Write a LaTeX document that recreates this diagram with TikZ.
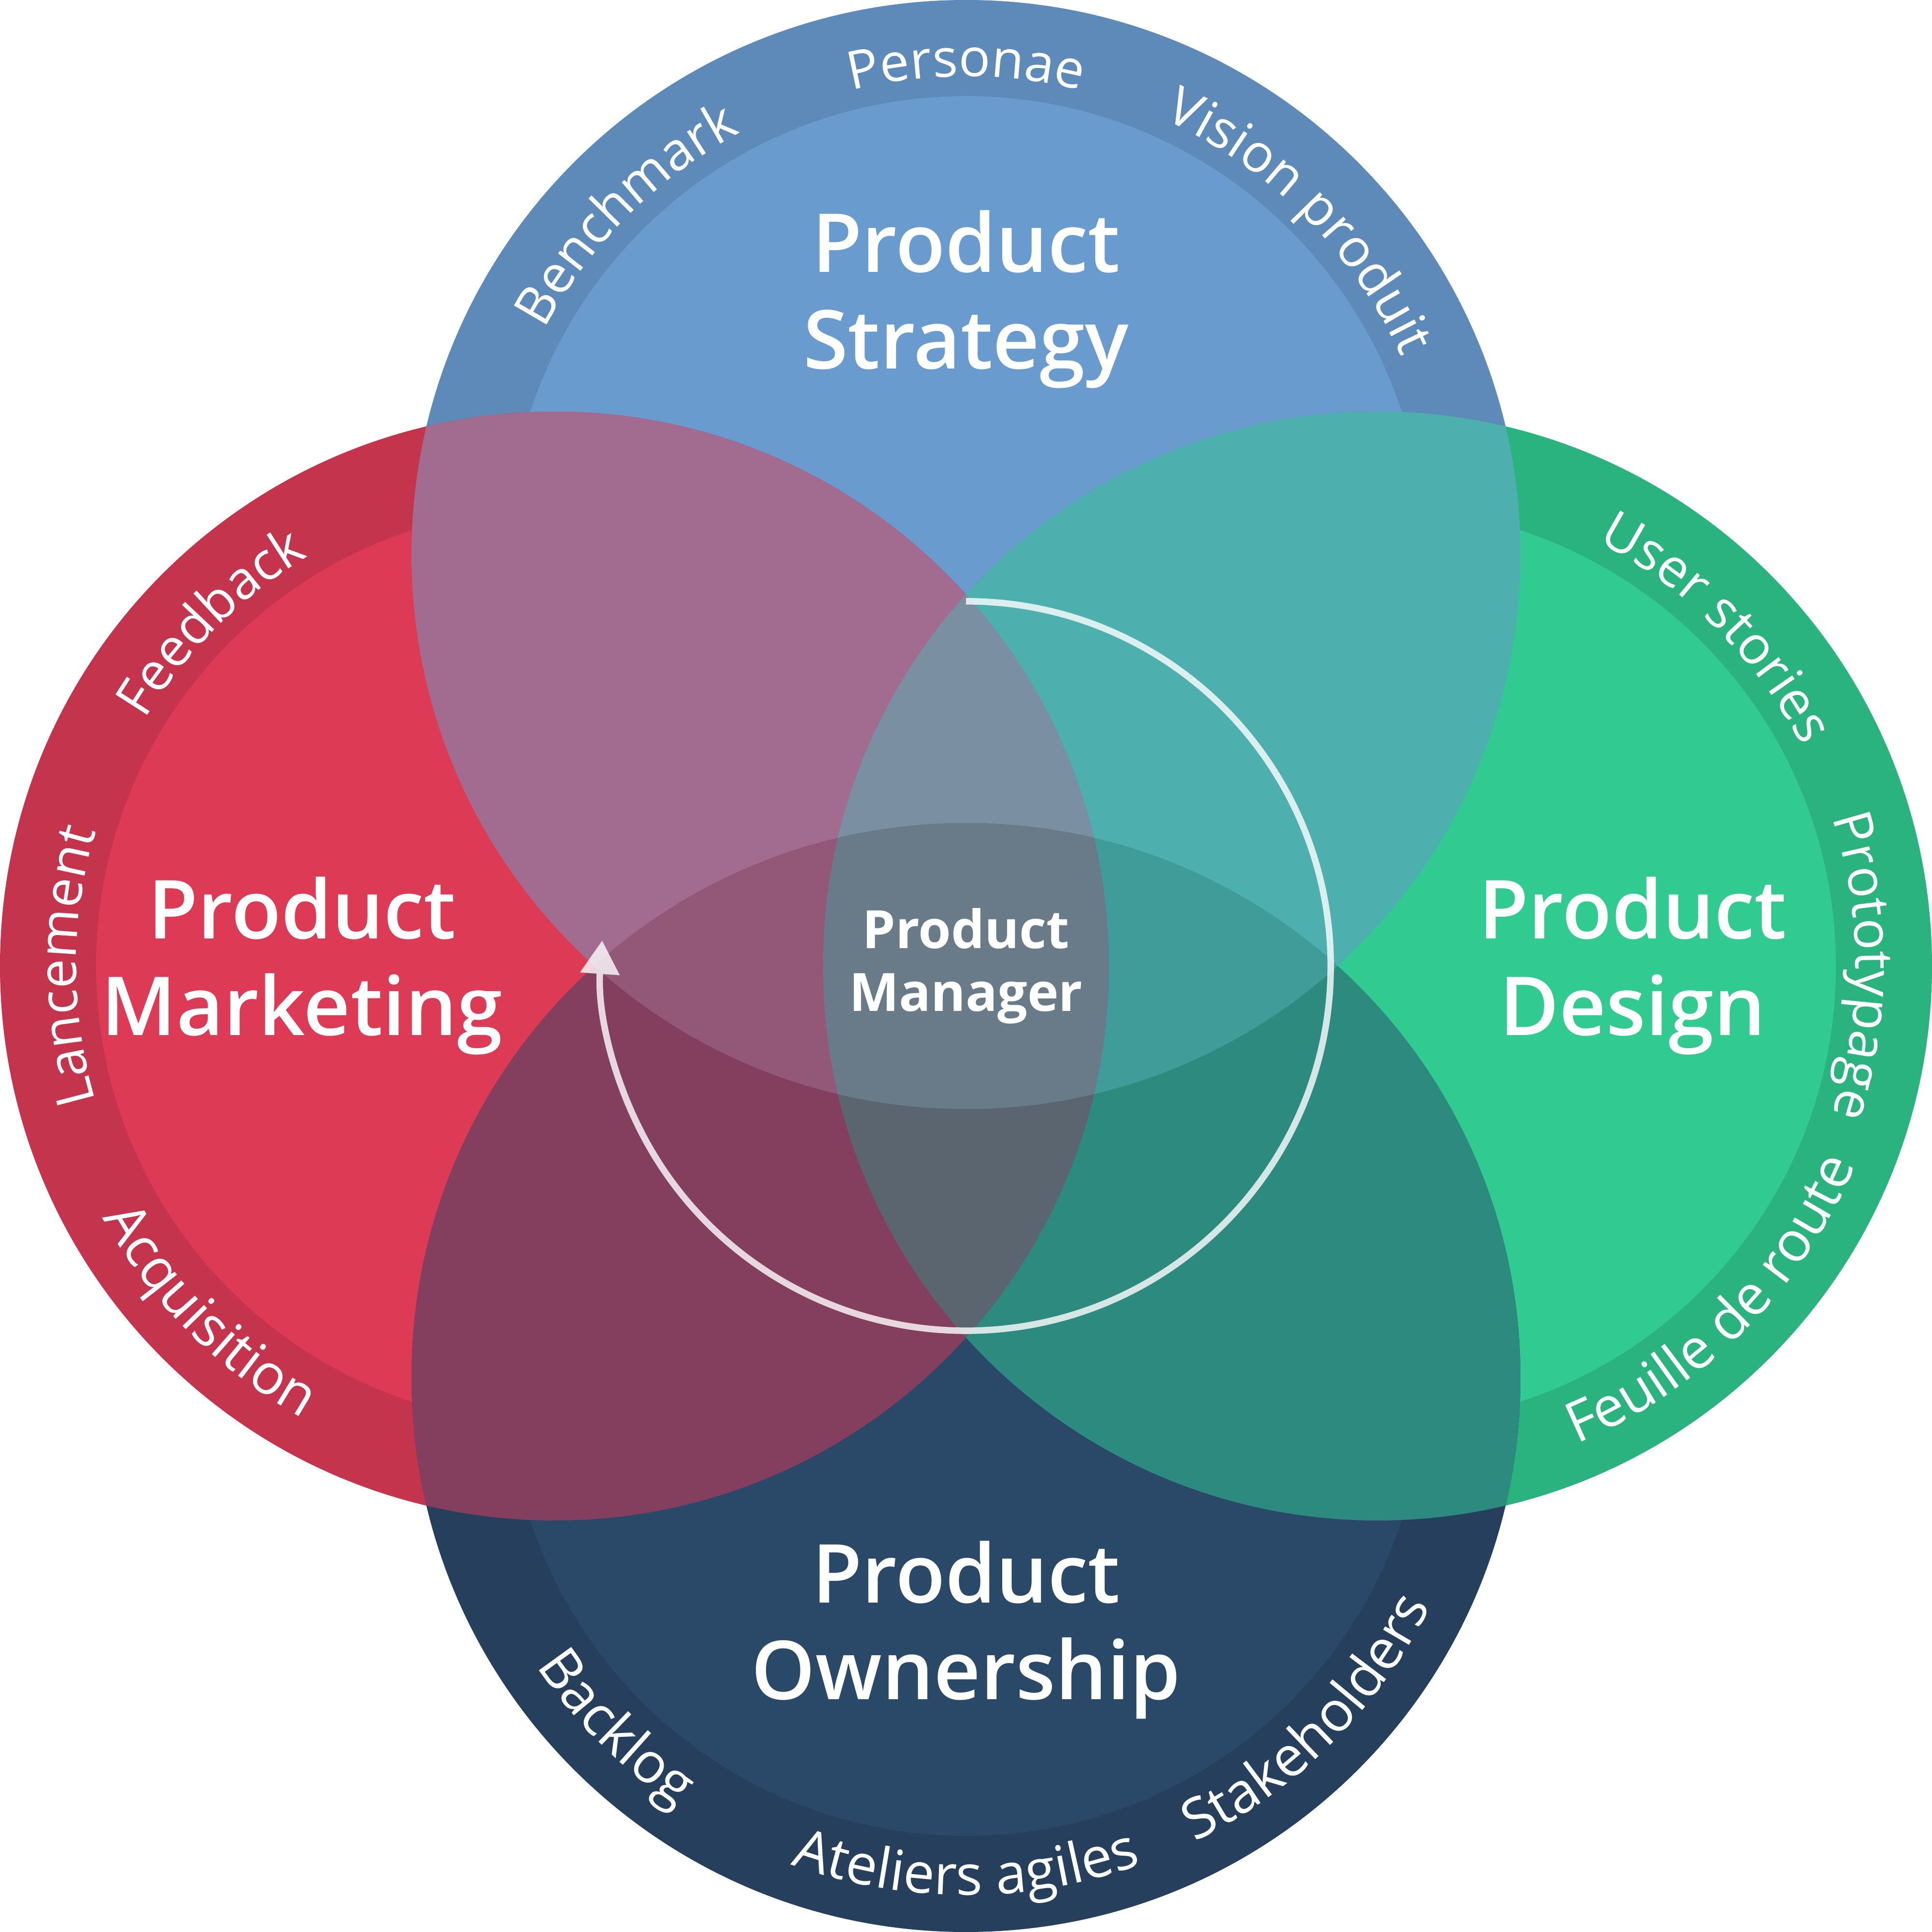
\documentclass[tikz,border=0pt]{standalone}
\usepackage{fontspec}
\setmainfont{Open Sans}
\newfontfamily\semifont{Open Sans Semibold}
\usepackage{tikz}
\usetikzlibrary{arrows.meta,decorations.text}

\definecolor{stratout}{HTML}{5E8AB9}
\definecolor{stratin}{HTML}{6A9BCF}
\definecolor{markout}{HTML}{C4344D}
\definecolor{markin}{HTML}{DC3A55}
\definecolor{desout}{HTML}{2AB27F}
\definecolor{desin}{HTML}{31CB91}
\definecolor{ownout}{HTML}{253F5C}
\definecolor{ownin}{HTML}{2A4868}
\definecolor{stratmark}{HTML}{A26C90}
\definecolor{stratdes}{HTML}{4DB0AE}
\definecolor{markown}{HTML}{843F5E}
\definecolor{desown}{HTML}{2D8A7E}
\definecolor{smd}{HTML}{7A8FA1}
\definecolor{smo}{HTML}{935878}
\definecolor{sdo}{HTML}{3F9C98}
\definecolor{mdo}{HTML}{5A6570}
\definecolor{allfour}{HTML}{697A88}

\newcommand{\ringfont}{\fontsize{12.2}{14}\selectfont}
\newcommand{\lowringfont}{\fontsize{12.9}{15}\selectfont}
\newcommand{\titlefont}{\semifont\fontsize{18.8}{22.3}\selectfont}
\newcommand{\pmfont}{\bfseries\fontsize{12.2}{14.5}\selectfont}

\begin{document}
\begin{tikzpicture}[
    title/.style={text=white, align=center, inner sep=0pt, font=\titlefont},
    ringtext/.style={decorate, decoration={text along path, text align=center, text color=white, text={|\ringfont|#1}}},
    lowringtext/.style={decorate, decoration={text along path, text align=center, text color=white, text={|\lowringfont|#1}}},
  ]
    \useasboundingbox (-7.84,-7.84) rectangle (7.84,7.84);
    % Circle centres
    \coordinate (T) at (0,3.34);
    \coordinate (L) at (-3.34,0);
    \coordinate (R) at (3.34,0);
    \coordinate (B) at (0,-3.34);
    % Four circles with lighter core
    \fill[stratout] (T) circle (4.5);
    \fill[stratin] (T) circle (3.72);
    \fill[markout] (L) circle (4.5);
    \fill[markin] (L) circle (3.72);
    \fill[desout] (R) circle (4.5);
    \fill[desin] (R) circle (3.72);
    \fill[ownout] (B) circle (4.5);
    \fill[ownin] (B) circle (3.72);
    % Pairwise overlaps
    \begin{scope}
      \clip (T) circle (4.5);
      \fill[stratmark] (L) circle (4.5);
      \fill[stratdes] (R) circle (4.5);
    \end{scope}
    \begin{scope}
      \clip (B) circle (4.5);
      \fill[markown] (L) circle (4.5);
      \fill[desown] (R) circle (4.5);
    \end{scope}
    % Triple and centre overlaps
    \begin{scope}
      \clip (L) circle (4.5);
      \clip (R) circle (4.5);
      \fill[smd] (T) circle (4.5);
      \fill[mdo] (B) circle (4.5);
    \end{scope}
    \begin{scope}
      \clip (T) circle (4.5);
      \clip (B) circle (4.5);
      \fill[smo] (L) circle (4.5);
      \fill[sdo] (R) circle (4.5);
      \clip (L) circle (4.5);
      \fill[allfour] (R) circle (4.5);
    \end{scope}
    % Titles
    \node[title] (strategy) at (0,5.41) {Product\\Strategy};
    \node[title] (marketing) at (-5.39,0) {Product\\Marketing};
    \node[title] (design) at (5.41,0) {Product\\Design};
    \node[title] (ownership) at (0,-5.39) {Product\\Ownership};
    \node[text=white, align=center, inner sep=0pt, font=\pmfont] (manager) at (0,0) {Product\\Manager};
    % Cycle arrow
    \begin{scope}[transparency group, opacity=0.8]
      \draw[white, line width=1.5pt, -{Triangle[length=7.7pt, width=8.8pt]}]
        (0,2.96) arc[start angle=90, end angle=-184, radius=2.96];
    \end{scope}
    % Ring labels, top halves
    \path[ringtext={Personae}] (T) ++(130:3.88) arc[start angle=130, end angle=50, radius=3.88];
    \path[ringtext={Benchmark}] (T) ++(175:3.88) arc[start angle=175, end angle=95, radius=3.88];
    \path[ringtext={Vision produit}] (T) ++(85:3.88) arc[start angle=85, end angle=5, radius=3.88];
    \path[ringtext={Feedback}] (L) ++(175:3.88) arc[start angle=175, end angle=95, radius=3.88];
    \path[ringtext={Lancement}] (L) ++(220:3.88) arc[start angle=220, end angle=140, radius=3.88];
    \path[ringtext={User stories}] (R) ++(85:3.88) arc[start angle=85, end angle=5, radius=3.88];
    \path[ringtext={Prototypage}] (R) ++(40:3.88) arc[start angle=40, end angle=-40, radius=3.88];
    % Ring labels, bottom halves
    \path[lowringtext={Acquisition}] (L) ++(185:4.2) arc[start angle=185, end angle=265, radius=4.2];
    \path[lowringtext={Feuille de route}] (R) ++(275:4.2) arc[start angle=275, end angle=355, radius=4.2];
    \path[lowringtext={Backlog}] (B) ++(185:4.2) arc[start angle=185, end angle=265, radius=4.2];
    \path[lowringtext={Ateliers agiles}] (B) ++(230:4.2) arc[start angle=230, end angle=310, radius=4.2];
    \path[lowringtext={Stakeholders}] (B) ++(275:4.2) arc[start angle=275, end angle=355, radius=4.2];
\end{tikzpicture}
\end{document}
